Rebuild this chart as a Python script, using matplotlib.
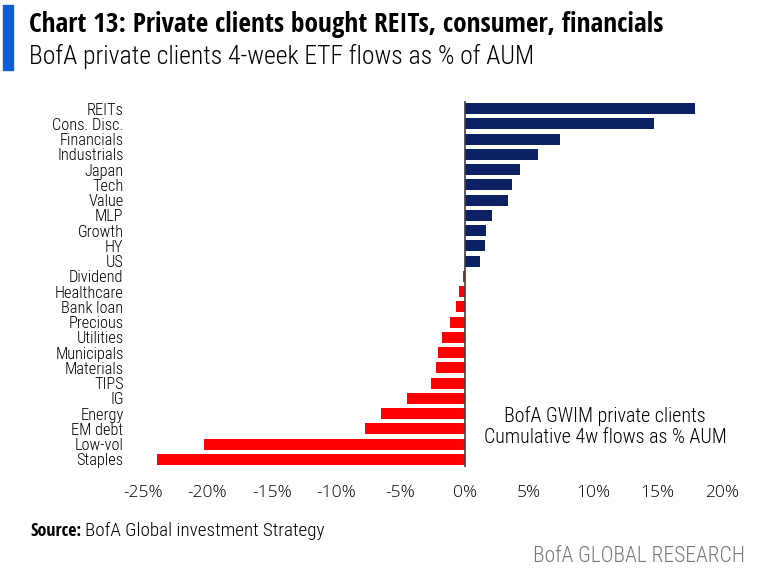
import matplotlib.pyplot as plt
import matplotlib.patches as mpatches

# categories top to bottom and their 4-week flows (% of AUM)
cats = ['REITs', 'Cons. Disc.', 'Financials', 'Industrials', 'Japan', 'Tech',
        'Value', 'MLP', 'Growth', 'HY', 'US', 'Dividend', 'Healthcare',
        'Bank loan', 'Precious', 'Utilities', 'Municipals', 'Materials',
        'TIPS', 'IG', 'Energy', 'EM debt', 'Low-vol', 'Staples']
flows = [17.9, 14.7, 7.4, 5.7, 4.3, 3.7, 3.4, 2.1, 1.65, 1.6, 1.2, -0.1,
         -0.47, -0.7, -1.15, -1.75, -2.07, -2.25, -2.64, -4.46, -6.5, -7.75,
         -20.3, -23.95]
xticks = [-25, -20, -15, -10, -5, 0, 5, 10, 15, 20]

light = ['Roboto Condensed', 'DejaVu Sans']
bold = ['Open Sans Condensed', 'DejaVu Sans']
wide = ['Open Sans', 'DejaVu Sans']
plt.rcParams['font.family'] = light
plt.rcParams['font.weight'] = 300

navy = '#0b2163'
red = '#ff0000'
colors = [navy if v > 0 else red for v in flows]

fig = plt.figure(figsize=(7.58, 5.82), dpi=100)
ax = fig.add_axes([0.1887, 0.1976, 0.7638, 0.629])

ypos = list(range(len(cats)))
ax.barh(ypos, flows, height=0.72, color=colors)
ax.axvline(0, color='#404040', lw=1.2)
ax.set_ylim(len(cats) - 0.5, -0.5)
ax.set_xlim(-25, 20)
ax.set_yticks(ypos)
ax.set_yticklabels(cats, fontsize=11.8)
ax.set_xticks(xticks)
ax.set_xticklabels([f'{t}%' for t in xticks], fontsize=12.5, family=wide)
ax.tick_params(axis='both', length=0)
ax.tick_params(axis='x', pad=13)
ax.tick_params(axis='y', pad=14)
for s in ax.spines.values():
    s.set_visible(False)

ax.text(10.9, 20.85, 'BofA GWIM private clients\nCumulative 4w flows as % AUM',
        ha='center', va='center', fontsize=14.4, linespacing=1.15)

# header
fig.patches.append(mpatches.Rectangle((0.004, 0.879), 0.013, 0.113,
                                      transform=fig.transFigure,
                                      color='#0b5ed7'))
fig.text(0.038, 0.958, 'Chart 13: Private clients bought REITs, consumer, financials',
         fontsize=19.7, family=bold, fontweight='bold', va='center')
fig.text(0.038, 0.903, 'BofA private clients 4-week ETF flows as % of AUM',
         fontsize=18.5, va='center')

# footer
src = fig.text(0.04, 0.087, 'Source:', fontsize=13, family=bold,
               fontweight='bold', va='center')
fig.canvas.draw()
bb = src.get_window_extent()
fig.text(bb.x1 / fig.bbox.width + 0.005, 0.087, 'BofA Global investment Strategy',
         fontsize=13.8, va='center')
fig.text(0.983, 0.043, 'BofA GLOBAL RESEARCH', fontsize=15.5, color='#777777',
         ha='right', va='center')

fig.savefig('out.png', dpi=100)
